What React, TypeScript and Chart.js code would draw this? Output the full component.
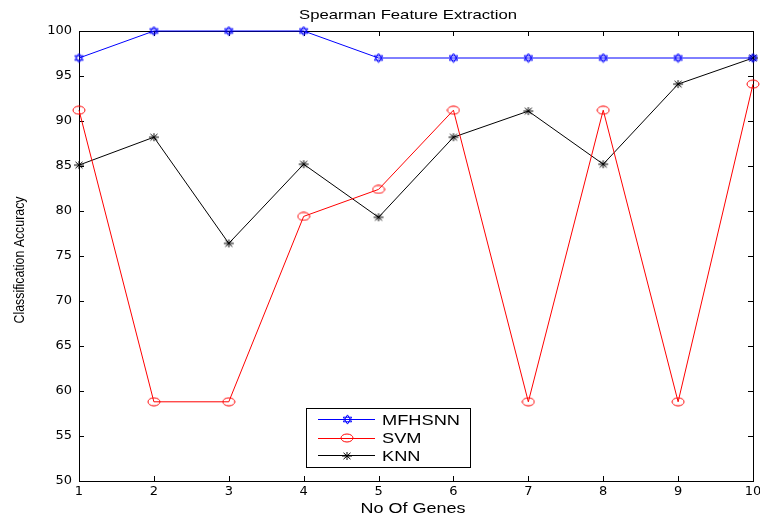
import React, { useEffect, useRef } from 'react';
import { Chart, registerables } from 'chart.js';

Chart.register(...registerables);

const genes = ['1', '2', '3', '4', '5', '6', '7', '8', '9', '10'];
const mfhsnn = [97, 100, 100, 100, 97, 97, 97, 97, 97, 97];
const svm = [91.2, 58.8, 58.8, 79.4, 82.4, 91.2, 58.8, 91.2, 58.8, 94.1];
const knn = [85.1, 88.2, 76.4, 85.2, 79.3, 88.2, 91.1, 85.2, 94.1, 97];
const seriesNames = ['MFHSNN', 'SVM', 'KNN'];
const seriesColors = ['#0000ff', '#ff0000', '#000000'];
const yMin = 50;
const yMax = 100;
const yStep = 5;
const chartTitle = 'Spearman Feature Extraction';
const xTitle = 'No Of Genes';
const yTitle = 'Classification Accuracy';

function makeCanvas(w: number, h: number) {
  const c = document.createElement('canvas');
  c.width = w;
  c.height = h;
  return c;
}

function makeHexagram(color: string) {
  const c = makeCanvas(11, 11);
  const ctx = c.getContext('2d')!;
  const cx = 5.5, cy = 5.5, r = 4.6, sx = 1.05;
  ctx.strokeStyle = color;
  ctx.lineWidth = 1;
  ctx.beginPath();
  ctx.moveTo(cx, cy - r);
  ctx.lineTo(cx + r * 0.866 * sx, cy + r / 2);
  ctx.lineTo(cx - r * 0.866 * sx, cy + r / 2);
  ctx.closePath();
  ctx.moveTo(cx, cy + r);
  ctx.lineTo(cx + r * 0.866 * sx, cy - r / 2);
  ctx.lineTo(cx - r * 0.866 * sx, cy - r / 2);
  ctx.closePath();
  ctx.stroke();
  return c;
}

function makeEllipse(color: string) {
  const c = makeCanvas(14, 10);
  const ctx = c.getContext('2d')!;
  ctx.strokeStyle = color;
  ctx.lineWidth = 1;
  ctx.beginPath();
  ctx.ellipse(7, 5, 6, 4, 0, 0, Math.PI * 2);
  ctx.stroke();
  return c;
}

function makeAsterisk(color: string) {
  const c = makeCanvas(12, 10);
  const ctx = c.getContext('2d')!;
  ctx.strokeStyle = color;
  ctx.lineWidth = 1;
  const cx = 6, cy = 5;
  ctx.beginPath();
  ctx.moveTo(cx - 5, cy); ctx.lineTo(cx + 5, cy);
  ctx.moveTo(cx, cy - 4); ctx.lineTo(cx, cy + 4);
  ctx.moveTo(cx - 3.5, cy - 3.2); ctx.lineTo(cx + 3.5, cy + 3.2);
  ctx.moveTo(cx - 3.5, cy + 3.2); ctx.lineTo(cx + 3.5, cy - 3.2);
  ctx.stroke();
  return c;
}

function drawStretched(
  ctx: CanvasRenderingContext2D,
  text: string,
  x: number,
  y: number,
  font: string,
  targetWidth: number | null,
  align: CanvasTextAlign,
  rotate = false,
  sxFixed?: number
) {
  ctx.save();
  ctx.font = font;
  const w = ctx.measureText(text).width;
  const sx = sxFixed !== undefined ? sxFixed : targetWidth ? targetWidth / w : 1;
  ctx.translate(x, y);
  if (rotate) ctx.rotate(-Math.PI / 2);
  ctx.scale(sx, 1);
  ctx.textAlign = align;
  ctx.textBaseline = 'alphabetic';
  ctx.fillStyle = '#000';
  ctx.fillText(text, 0, 0);
  ctx.restore();
  return sx;
}

export default function App() {
  const ref = useRef<HTMLCanvasElement | null>(null);

  useEffect(() => {
    document.body.style.margin = '0';
    const canvas = ref.current!;
    const markers = [makeHexagram(seriesColors[0]), makeEllipse(seriesColors[1]), makeAsterisk(seriesColors[2])];
    const values = [mfhsnn, svm, knn];

    const framePlugin = {
      id: 'frame',
      beforeDatasetsDraw(chart: any) {
        const { ctx, chartArea: a, scales } = chart;
        ctx.save();
        ctx.strokeStyle = '#000';
        ctx.lineWidth = 1;
        ctx.strokeRect(Math.round(a.left) + 0.5, Math.round(a.top) + 0.5, Math.round(a.right - a.left), Math.round(a.bottom - a.top));
        ctx.beginPath();
        const tl = 5;
        for (let v = yMin; v <= yMax; v += yStep) {
          const y = Math.round(scales.y.getPixelForValue(v)) + 0.5;
          ctx.moveTo(a.left, y); ctx.lineTo(a.left + tl, y);
          ctx.moveTo(a.right, y); ctx.lineTo(a.right - tl, y);
        }
        genes.forEach((_, i) => {
          const x = Math.round(scales.x.getPixelForValue(i)) + 0.5;
          ctx.moveTo(x, a.bottom); ctx.lineTo(x, a.bottom - tl);
          ctx.moveTo(x, a.top); ctx.lineTo(x, a.top + tl);
        });
        ctx.stroke();
        ctx.restore();
      },
      afterDraw(chart: any) {
        const { ctx, chartArea: a } = chart;
        const cx = (a.left + a.right) / 2;
        drawStretched(ctx, chartTitle, cx - 8, 19, '13px "Liberation Sans"', 218, 'center');
        drawStretched(ctx, xTitle, cx - 3, 513, '15px "Liberation Sans"', 105, 'center');
        drawStretched(ctx, yTitle, 24, 260, '14px "Liberation Sans"', 127, 'center', true);

        // legend
        ctx.save();
        ctx.fillStyle = '#fff';
        ctx.fillRect(306, 408, 164, 59);
        ctx.strokeStyle = '#000';
        ctx.lineWidth = 1;
        ctx.strokeRect(306.5, 408.5, 164, 59);
        ctx.restore();
        const rows = [419, 437.5, 455];
        let sx: number | undefined;
        seriesNames.forEach((name, i) => {
          const y = rows[i];
          ctx.save();
          ctx.strokeStyle = seriesColors[i];
          ctx.lineWidth = 1;
          ctx.beginPath();
          ctx.moveTo(318, Math.round(y) + 0.5);
          ctx.lineTo(375, Math.round(y) + 0.5);
          ctx.stroke();
          const m = markers[i];
          ctx.drawImage(m, Math.round(347 - m.width / 2), Math.round(y + 0.5 - m.height / 2));
          ctx.restore();
          if (i === 0) {
            sx = drawStretched(ctx, name, 382, y + 5.5, '15px "Liberation Sans"', 78, 'left');
          } else {
            drawStretched(ctx, name, 382, y + 5.5, '15px "Liberation Sans"', null, 'left', false, sx);
          }
        });
      },
    };

    const chart = new Chart(canvas, {
      type: 'line',
      data: {
        labels: genes,
        datasets: seriesNames.map((name, i) => ({
          label: name,
          data: values[i],
          borderColor: seriesColors[i],
          backgroundColor: seriesColors[i],
          borderWidth: 1,
          pointStyle: markers[i] as any,
          pointRadius: 5,
          pointHoverRadius: 5,
          tension: 0,
          fill: false,
          clip: false as any,
        })),
      },
      options: {
        animation: false,
        responsive: false,
        devicePixelRatio: 1,
        events: [],
        layout: { padding: { top: 31, right: 7, left: 0, bottom: 0 } },
        plugins: {
          legend: { display: false },
          title: { display: false },
          tooltip: { enabled: false },
        },
        scales: {
          x: {
            type: 'category',
            offset: false,
            grid: { display: false, drawTicks: false },
            border: { display: false },
            ticks: {
              autoSkip: false,
              maxRotation: 0,
              padding: 3,
              color: '#000',
              font: { family: 'DejaVu Sans', size: 13 },
            },
            afterFit(s: any) {
              s.height = 35;
              s.paddingLeft = 0;
              s.paddingRight = 0;
            },
          },
          y: {
            min: yMin,
            max: yMax,
            grid: { display: false, drawTicks: false },
            border: { display: false },
            ticks: {
              stepSize: yStep,
              padding: 7,
              color: '#000',
              font: { family: 'DejaVu Sans', size: 13 },
            },
            afterFit(s: any) {
              s.width = 79;
              s.paddingTop = 0;
              s.paddingBottom = 0;
            },
          },
        },
      },
      plugins: [framePlugin],
    });
    return () => chart.destroy();
  }, []);

  return (
    <div style={{ position: 'absolute', left: 0, top: 0, width: 760, height: 516 }}>
      <canvas ref={ref} width={760} height={516} style={{ display: 'block' }} />
    </div>
  );
}
